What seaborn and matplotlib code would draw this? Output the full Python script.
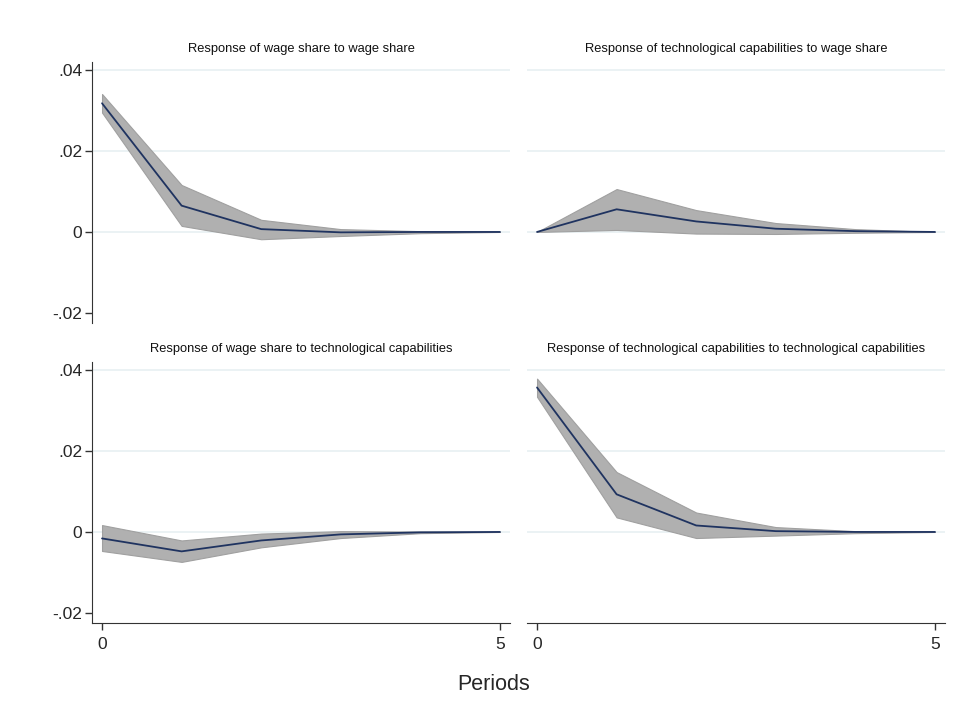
import pandas as pd
import matplotlib.pyplot as plt
import seaborn as sns

# impulse response data (periods 0-5)
periods = [0, 1, 2, 3, 4, 5]
titles = ["Response of wage share to wage share",
          "Response of technological capabilities to wage share",
          "Response of wage share to technological capabilities",
          "Response of technological capabilities to technological capabilities"]

ws_ws = [0.0318, 0.0065, 0.0007, -0.0001, 0.0, 0.0]
ws_ws_hi = [0.0341, 0.0116, 0.0030, 0.0007, 0.0002, 0.0]
ws_ws_lo = [0.0295, 0.0015, -0.0018, -0.0010, -0.0003, 0.0]

tc_ws = [0.0, 0.0056, 0.0026, 0.0008, 0.0002, 0.0]
tc_ws_hi = [0.0, 0.0106, 0.0054, 0.0022, 0.0007, 0.0]
tc_ws_lo = [0.0, 0.0005, -0.0004, -0.0005, -0.0002, 0.0]

ws_tc = [-0.0016, -0.0048, -0.0021, -0.0006, -0.0001, 0.0]
ws_tc_hi = [0.0017, -0.0021, -0.0004, 0.0002, 0.0001, 0.0]
ws_tc_lo = [-0.0047, -0.0074, -0.0038, -0.0015, -0.0003, 0.0]

tc_tc = [0.0357, 0.0093, 0.0016, 0.0002, 0.0, 0.0]
tc_tc_hi = [0.0379, 0.0148, 0.0048, 0.0012, 0.0002, 0.0]
tc_tc_lo = [0.0334, 0.0036, -0.0015, -0.0009, -0.0003, 0.0]

y_ticks = [-0.02, 0.0, 0.02, 0.04]
y_labels = ["-.02", "0", ".02", ".04"]

sns.set_style("white")
plt.rcParams['font.family'] = ['Liberation Sans', 'DejaVu Sans']

series = [(ws_ws, ws_ws_lo, ws_ws_hi), (tc_ws, tc_ws_lo, tc_ws_hi),
          (ws_tc, ws_tc_lo, ws_tc_hi), (tc_tc, tc_tc_lo, tc_tc_hi)]

fig = plt.figure(figsize=(9.67, 7.06), dpi=100)
W, H = 967, 706
lefts = [92, 527]
tops = [62, 362]
pw, ph = 418, 261

line_col = "#1f3360"
band_col = "#b0b0b0"
grid_col = "#e8f0f2"
axis_col = "#333333"

for i in range(4):
    r, c = divmod(i, 2)
    ax = fig.add_axes([lefts[c] / W, 1 - (tops[r] + ph) / H, pw / W, ph / H])
    est, lo, hi = series[i]
    df = pd.DataFrame({"period": periods, "irf": est})
    ax.fill_between(periods, lo, hi, color=band_col, linewidth=0.8,
                    edgecolor="#a0a0a0", zorder=2)
    sns.lineplot(data=df, x="period", y="irf", ax=ax, color=line_col,
                 linewidth=1.3, zorder=3)
    for g in [0.0, 0.02, 0.04]:
        ax.axhline(g, color=grid_col, linewidth=1.2, zorder=1)
    ax.set_xlim(-0.126, 5.126)
    ax.set_ylim(-0.0225, 0.042)
    ax.set_xlabel("")
    ax.set_ylabel("")
    ax.set_title(titles[i], fontsize=9.3, pad=7, color="#111111")
    for s in ax.spines.values():
        s.set_visible(False)
    if c == 0:
        ax.spines["left"].set_visible(True)
        ax.spines["left"].set_color(axis_col)
        ax.set_yticks(y_ticks)
        ax.set_yticklabels(y_labels)
        ax.tick_params(axis="y", left=True, length=5, width=1, color=axis_col,
                       labelsize=12.5, pad=2)
    else:
        ax.set_yticks([])
    if r == 1:
        ax.spines["bottom"].set_visible(True)
        ax.spines["bottom"].set_color(axis_col)
        ax.set_xticks([0, 5])
        ax.set_xticklabels(["0", "5"])
        ax.tick_params(axis="x", bottom=True, length=5, width=1, color=axis_col,
                       labelsize=12.5, pad=5)
    else:
        ax.set_xticks([])

fig.text(494 / W, 1 - 685 / H, "Periods", ha="center", va="center", fontsize=15.5)

fig.savefig("out.png", dpi=100, facecolor="white")
